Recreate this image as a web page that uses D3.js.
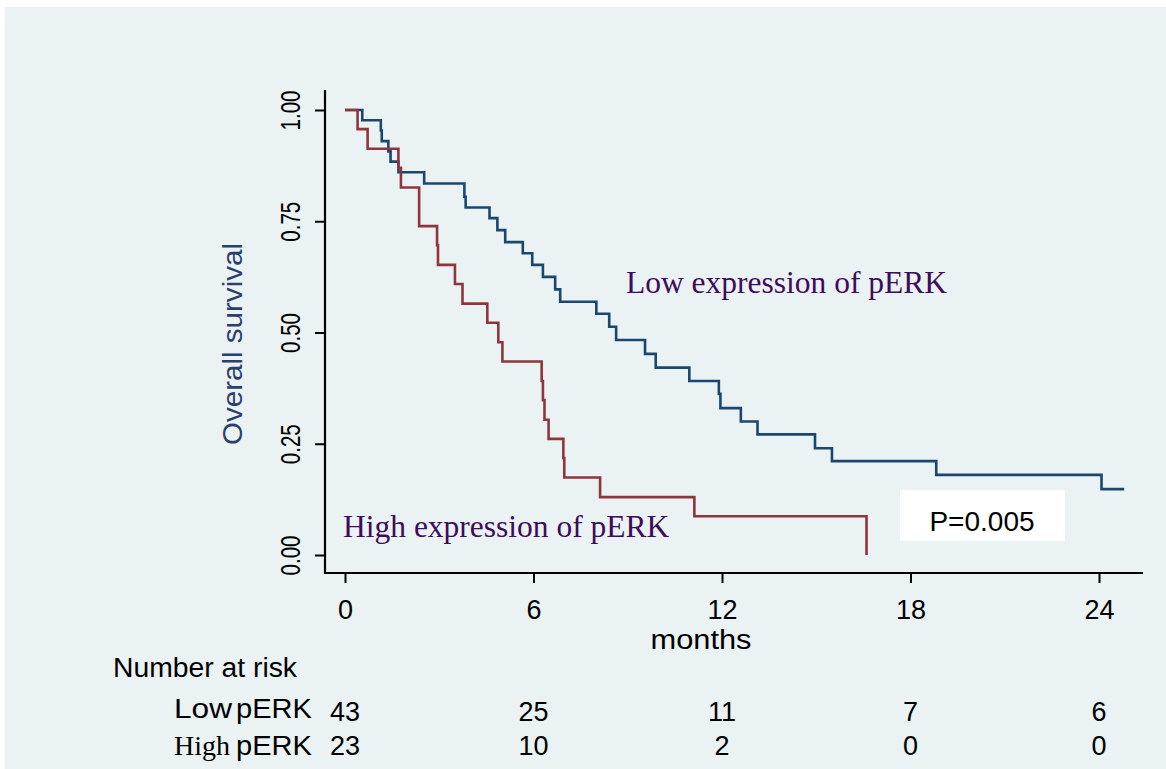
<!DOCTYPE html>
<html>
<head>
<meta charset="utf-8">
<script src="https://cdn.jsdelivr.net/npm/d3@7"></script>
<style>
  html, body { margin: 0; padding: 0; background: #ffffff; }
  svg { display: block; }
</style>
</head>
<body>
<svg id="chart" width="1166" height="769"></svg>
<script>
// ---- Data ----
const lowTimes = [0, 0.55, 1.14, 1.17, 1.38, 1.45, 1.70, 2.52, 3.80, 3.84, 4.60, 4.85, 5.10, 5.66, 5.96, 6.30, 6.69, 6.85, 8.00, 8.41, 8.63, 9.55, 9.89, 10.96, 11.90, 11.95, 12.60, 13.13, 14.96, 15.50, 18.82, 24.08, 24.80];
const lowSurv  = [1, 0.977, 0.954, 0.930, 0.907, 0.884, 0.860, 0.835, 0.805, 0.781, 0.757, 0.730, 0.703, 0.678, 0.652, 0.625, 0.597, 0.569, 0.542, 0.513, 0.483, 0.452, 0.421, 0.391, 0.362, 0.330, 0.300, 0.271, 0.240, 0.211, 0.180, 0.148, 0.148];

const highTimes = [0, 0.40, 0.72, 1.70, 1.78, 2.36, 2.93, 2.96, 3.50, 3.74, 4.53, 4.88, 5.01, 6.26, 6.30, 6.35, 6.48, 6.95, 6.98, 8.12, 11.12, 16.60];
const highSurv  = [1, 0.957, 0.913, 0.870, 0.826, 0.739, 0.696, 0.652, 0.609, 0.565, 0.522, 0.478, 0.435, 0.391, 0.348, 0.304, 0.261, 0.218, 0.174, 0.130, 0.087, 0];

const xTicks = [0, 6, 12, 18, 24];
const yTicks = [0, 0.25, 0.5, 0.75, 1];
const riskTimes = [0, 6, 12, 18, 24];
const lowRisk = [43, 25, 11, 7, 6];
const highRisk = [23, 10, 2, 0, 0];

const lowLabel = "Low expression of pERK";
const highLabel = "High expression of pERK";
const pLabel = "P=0.005";
const xTitle = "months";
const yTitle = "Overall survival";
const riskTitle = "Number at risk";

// ---- Layout ----
const W = 1166, H = 769;
const frame = {left: 325, right: 1143, top: 90, bottom: 573};
const svg = d3.select("#chart");
const SANS = "'Liberation Sans', Arial, sans-serif";
const SERIF = "'Liberation Serif', 'Times New Roman', serif";
const NAVY = "#1a476f", MAROON = "#90353b", LABEL = "#3d0c5a";

svg.append("rect").attr("x", 5).attr("y", 7).attr("width", W - 5).attr("height", H - 7).attr("fill", "#eaf2f3");

const x = d3.scaleLinear().domain([0, 24]).range([345, 1099]);
const y = d3.scaleLinear().domain([0, 1]).range([555, 110]);

// axes frame lines
svg.append("line").attr("x1", frame.left).attr("x2", frame.left).attr("y1", frame.top).attr("y2", frame.bottom + 1)
  .attr("stroke", "#000").attr("stroke-width", 2.2);
svg.append("line").attr("x1", frame.left).attr("x2", frame.right).attr("y1", frame.bottom).attr("y2", frame.bottom)
  .attr("stroke", "#000").attr("stroke-width", 2.2);

// x axis
const gx = svg.append("g").attr("transform", `translate(0,${frame.bottom})`)
  .call(d3.axisBottom(x).tickValues(xTicks).tickSize(10).tickPadding(0).tickFormat(d3.format("d")));
gx.select(".domain").remove();
gx.selectAll(".tick line").attr("stroke", "#000").attr("stroke-width", 2);
gx.selectAll(".tick text").attr("font-family", SANS).attr("font-size", 27).attr("fill", "#000")
  .attr("y", 0).attr("dy", 46);

// y axis
const gy = svg.append("g").attr("transform", `translate(${frame.left},0)`)
  .call(d3.axisLeft(y).tickValues(yTicks).tickSize(10).tickFormat(d3.format(".2f")));
gy.select(".domain").remove();
gy.selectAll(".tick line").attr("stroke", "#000").attr("stroke-width", 2);
gy.selectAll(".tick text").attr("font-family", SANS).attr("font-size", 27).attr("fill", "#000")
  .attr("x", 0).attr("dy", 0).attr("text-anchor", "middle")
  .attr("transform", "translate(-25,0) rotate(-90)")
  .attr("textLength", 40).attr("lengthAdjust", "spacingAndGlyphs");

// axis titles
svg.append("text").attr("x", 701).attr("y", 649).attr("text-anchor", "middle")
  .attr("font-family", SANS).attr("font-size", 27).attr("fill", "#000")
  .attr("textLength", 101).attr("lengthAdjust", "spacingAndGlyphs").text(xTitle);
svg.append("text").attr("transform", "translate(242,344) rotate(-90)").attr("text-anchor", "middle")
  .attr("font-family", SANS).attr("font-size", 28).attr("fill", "#2a3f6c")
  .attr("textLength", 202).attr("lengthAdjust", "spacingAndGlyphs").text(yTitle);

// curves
const line = d3.line().curve(d3.curveStepAfter).x(d => x(d[0])).y(d => y(d[1]));
svg.append("path").datum(d3.zip(lowTimes, lowSurv)).attr("d", line)
  .attr("fill", "none").attr("stroke", NAVY).attr("stroke-width", 2.6);
svg.append("path").datum(d3.zip(highTimes, highSurv)).attr("d", line)
  .attr("fill", "none").attr("stroke", MAROON).attr("stroke-width", 2.6);

// curve labels
svg.append("text").attr("x", 626).attr("y", 293).attr("font-family", SERIF).attr("font-size", 31.5)
  .attr("fill", LABEL).text(lowLabel);
svg.append("text").attr("x", 343).attr("y", 537).attr("font-family", SERIF).attr("font-size", 31.5)
  .attr("fill", LABEL).text(highLabel);

// p-value box
svg.append("rect").attr("x", 900).attr("y", 490).attr("width", 165).attr("height", 51).attr("fill", "#ffffff");
svg.append("text").attr("x", 982).attr("y", 531).attr("text-anchor", "middle").attr("font-family", SANS)
  .attr("font-size", 28).attr("fill", "#000").text(pLabel);

// number at risk
svg.append("text").attr("x", 113).attr("y", 677).attr("font-family", SANS).attr("font-size", 27)
  .attr("fill", "#000").attr("textLength", 184).attr("lengthAdjust", "spacingAndGlyphs").text(riskTitle);

const lowRow = svg.append("text").attr("x", 174).attr("y", 718).attr("fill", "#000")
  .attr("font-family", SANS).attr("font-size", 27);
lowRow.append("tspan").attr("textLength", 58).attr("lengthAdjust", "spacingAndGlyphs").text("Low");
lowRow.append("tspan").attr("dx", 4).attr("textLength", 76).attr("lengthAdjust", "spacingAndGlyphs").text("pERK");

const highRow = svg.append("text").attr("x", 174).attr("y", 755).attr("fill", "#000").attr("font-size", 27);
highRow.append("tspan").attr("font-family", SERIF).attr("font-size", 28).attr("textLength", 56)
  .attr("lengthAdjust", "spacingAndGlyphs").text("High");
highRow.append("tspan").attr("dx", 6).attr("font-family", SANS).attr("textLength", 76)
  .attr("lengthAdjust", "spacingAndGlyphs").text("pERK");

svg.append("g").selectAll("text").data(d3.zip(riskTimes, lowRisk)).join("text")
  .attr("x", d => x(d[0])).attr("y", 721).attr("text-anchor", "middle")
  .attr("font-family", SANS).attr("font-size", 27).attr("fill", "#000").text(d => d[1]);
svg.append("g").selectAll("text").data(d3.zip(riskTimes, highRisk)).join("text")
  .attr("x", d => x(d[0])).attr("y", 755).attr("text-anchor", "middle")
  .attr("font-family", SANS).attr("font-size", 27).attr("fill", "#000").text(d => d[1]);
</script>
</body>
</html>
